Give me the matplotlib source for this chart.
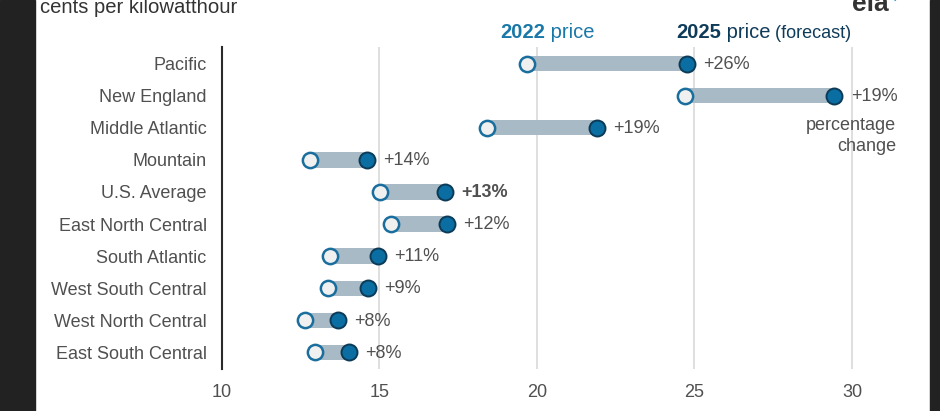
import matplotlib
matplotlib.use("Agg")
import matplotlib.pyplot as plt
from matplotlib.patches import Rectangle

plt.rcParams['font.family'] = ['Liberation Sans', 'DejaVu Sans']

regions = ["Pacific", "New England", "Middle Atlantic", "Mountain", "U.S. Average",
           "East North Central", "South Atlantic", "West South Central",
           "West North Central", "East South Central"]
price_2022 = [19.68, 24.70, 18.41, 12.79, 15.02, 15.37, 13.43, 13.37, 12.63, 12.95]
price_2025 = [24.76, 29.43, 21.90, 14.60, 17.08, 17.14, 14.95, 14.63, 13.68, 14.03]
pct_labels = ["+26%", "+19%", "+19%", "+14%", "+13%", "+12%", "+11%", "+9%", "+8%", "+8%"]
xticks = [10, 15, 20, 25, 30]

W, H = 940, 411
fig = plt.figure(figsize=(W / 100, H / 100), dpi=100)
fig.patch.set_facecolor('white')

x_left_px, px_per_unit = 222, 31.5
xmin, xmax = 10, 32
ax = fig.add_axes([x_left_px / W, (H - 368.5) / H, px_per_unit * (xmax - xmin) / W, 321 / H])

txt = '#505050'
bar_c = '#a7bac5'
c22_edge = '#1a6e9e'
c25_face = '#0a6ea3'
c25_edge = '#0d3a56'

for s in ['top', 'right', 'bottom']:
    ax.spines[s].set_visible(False)
ax.spines['left'].set_color('#2a2a2a')
ax.spines['left'].set_linewidth(1.5)

ys = list(range(len(regions)))
widths = [b - a for a, b in zip(price_2022, price_2025)]
ax.barh(ys, widths, left=price_2022, height=0.48, color=bar_c, zorder=2)
ax.plot(price_2022, ys, 'o', ms=11, mfc='#f0f0f0', mec=c22_edge, mew=1.8, ls='none', zorder=3)
ax.plot(price_2025, ys, 'o', ms=11.5, mfc=c25_face, mec=c25_edge, mew=1.4, ls='none', zorder=3)

for y, v, lab, reg in zip(ys, price_2025, pct_labels, regions):
    ax.annotate(lab, (v, y), xytext=(12, -0.5), textcoords='offset points', va='center', ha='left',
                fontsize=13, color=txt, fontweight='bold' if reg == "U.S. Average" else 'normal')

ax.set_xlim(xmin, xmax)
ax.set_ylim(len(regions) - 0.5, -0.5)
ax.set_yticks(ys)
ax.set_yticklabels(regions, fontsize=13, color=txt)
ax.set_xticks(xticks)
ax.set_xticklabels([str(t) for t in xticks], fontsize=13, color=txt)
ax.tick_params(axis='y', length=0, pad=11)
ax.tick_params(axis='x', length=0, pad=11)
ax.grid(axis='x', color='#d9d9d9', lw=1.2, zorder=0)
ax.set_axisbelow(True)
ax.xaxis.get_gridlines()[0].set_visible(False)

fig.text(896 / W, (H - 117) / H, "percentage\nchange", ha='right', va='top',
         fontsize=13, color=txt, linespacing=1.32)

# headers, placed piece by piece
renderer = fig.canvas.get_renderer()
def seq(x_px, y_px, parts):
    x = x_px
    for s, kw in parts:
        t = fig.text(x / W, (H - y_px) / H, s, ha='left', va='baseline', **kw)
        bb = t.get_window_extent(renderer=renderer)
        x = bb.x1
    return x

c22 = '#1a78a8'
c25 = '#0f3b5a'
seq(500, 38, [("2022", dict(fontsize=14.5, fontweight='bold', color=c22)),
              (" price", dict(fontsize=14.5, color=c22))])
seq(676, 38, [("2025", dict(fontsize=14.5, fontweight='bold', color=c25)),
              (" price", dict(fontsize=14.5, color=c25)),
              (" (forecast)", dict(fontsize=13, color=c25))])

# title (cut off at top)
fig.text(40 / W, (H - 13) / H, "cents per kilowatthour", ha='left', va='baseline',
         fontsize=14.6, color='#333333')
# logo
fig.text(852 / W, (H - 11) / H, "eia", ha='left', va='baseline', fontsize=19,
         fontweight='bold', color='#333333')
fig.text(893 / W, (H - 9) / H, "\u2019", ha='left', va='baseline', fontsize=12,
         fontweight='bold', color='#2a9fd6')

# dark side strips
fig.patches.append(Rectangle((0, 0), 35 / W, 1, transform=fig.transFigure,
                             color='#222222', zorder=10))
fig.patches.append(Rectangle((930 / W, 0), 10 / W, 1, transform=fig.transFigure,
                             color='#222222', zorder=10))

fig.savefig('out.png', dpi=100, facecolor='white')
